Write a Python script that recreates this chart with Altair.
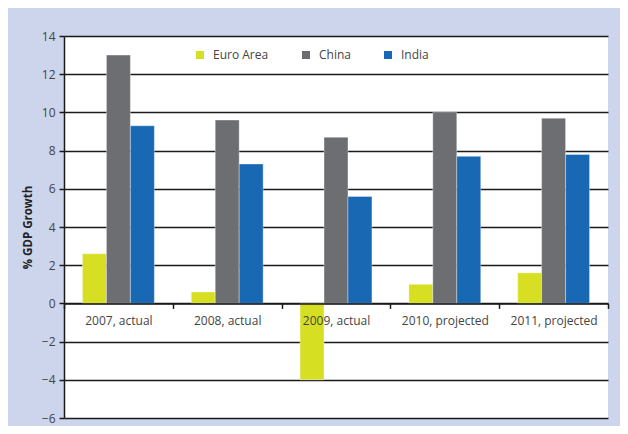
import altair as alt
import pandas as pd

categories = ["2007, actual", "2008, actual", "2009, actual", "2010, projected", "2011, projected"]
series = ["Euro Area", "China", "India"]
euro_area = [2.6, 0.6, -4.0, 1.0, 1.6]
china = [13.0, 9.6, 8.7, 10.0, 9.7]
india = [9.3, 7.3, 5.6, 7.7, 7.8]
colors = ["#d7df23", "#6d6e72", "#1868b4"]
y_ticks = [-6, -4, -2, 0, 2, 4, 6, 8, 10, 12, 14]

rows = []
for name, vals in zip(series, [euro_area, china, india]):
    for c, v in zip(categories, vals):
        rows.append({"category": c, "series": name, "value": v})
df = pd.DataFrame(rows)

W, H = 544, 382
FONT = "Open Sans"

chart = alt.Chart(df).mark_bar(stroke="#ffffff", strokeWidth=0.6, strokeOpacity=0.6).encode(
    x=alt.X("category:N", sort=categories, title=None,
            scale=alt.Scale(paddingInner=0, paddingOuter=0),
            axis=alt.Axis(offset=-H * 6 / 20, tickBand="extent", labelAngle=0,
                          domain=True, domainColor="#1a1a1a", domainWidth=1.5,
                          ticks=True, tickColor="#1a1a1a", tickSize=5, tickWidth=1.5,
                          labelPadding=7, labelFontSize=12, labelColor="#444444",
                          labelFont=FONT, grid=False, zindex=1)),
    xOffset=alt.XOffset("series:N", sort=series,
                        scale=alt.Scale(paddingInner=0, paddingOuter=0.77)),
    y=alt.Y("value:Q", title="% GDP Growth",
            scale=alt.Scale(domain=[-6, 14], nice=False, zero=False),
            axis=alt.Axis(values=y_ticks, format="d", grid=True, gridColor="#1a1a1a",
                          gridWidth=1.5, domainColor="#1a1a1a", domainWidth=1.5,
                          tickColor="#1a1a1a", tickSize=5, tickWidth=1.5,
                          labelPadding=4, labelFontSize=12, labelColor="#444444",
                          labelFont=FONT, titleFont=FONT, titleFontSize=11.5,
                          titleFontWeight="bold", titleColor="#222222", titlePadding=8)),
    color=alt.Color("series:N", sort=series,
                    scale=alt.Scale(domain=series, range=colors),
                    legend=alt.Legend(title=None, orient="none", legendX=130, legendY=13,
                                      direction="horizontal", columns=3, columnPadding=31,
                                      symbolType="square", symbolSize=64, symbolStrokeWidth=0,
                                      labelFontSize=12, labelColor="#444444", labelFont=FONT,
                                      labelOffset=7)),
).properties(
    width=W, height=H,
    background="#ccd5eb",
    padding={"left": 56, "top": 28, "right": 12, "bottom": 8},
    autosize=alt.AutoSizeParams(type="none"),
).configure_view(fill="#ffffff", stroke=None)

chart.save("out.html", embed_options={"renderer": "svg", "actions": False})
